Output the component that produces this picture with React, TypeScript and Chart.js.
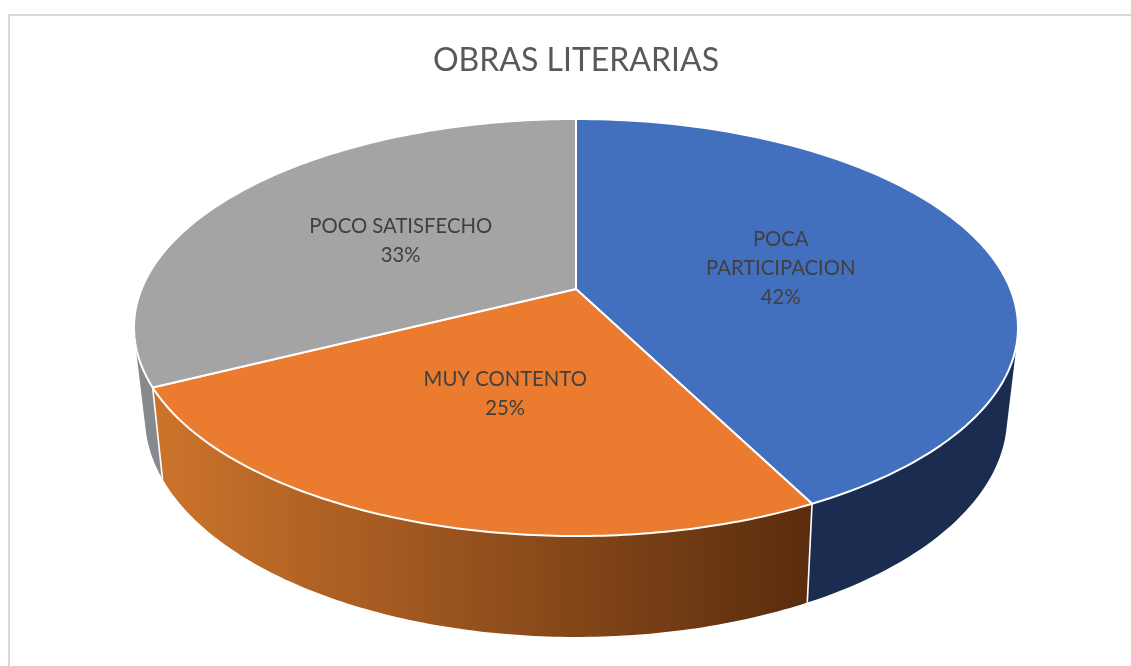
import React, { useEffect, useRef } from "react";
import { Chart, registerables } from "chart.js";

Chart.register(...registerables);

const chartTitle = "OBRAS LITERARIAS";
const categories = ["POCA PARTICIPACION", "MUY CONTENTO", "POCO SATISFECHO"];
const labelLines = [["POCA", "PARTICIPACION"], ["MUY CONTENTO"], ["POCO SATISFECHO"]];
const percentLabels = ["42%", "25%", "33%"];
const seriesValues = [42.5, 25.1, 32.4];
const faceColors = ["#4270BF", "#EA7B2F", "#A4A4A4"];

const FONT = "Lato, 'Open Sans', sans-serif";

// Perspective of the 3D disc: unit circle (u, v) -> screen.
const topFace = { x0: 576, y0: 289, a: 201.4, b: -0.1847, c: 434.4 };
const lowFace = { x0: 576, y0: 375.2, a: 212, b: -0.19, c: 423.2 };

type Face = typeof topFace;

function project(f: Face, angle: number, r = 1) {
  const u = Math.cos(angle) * r;
  const v = Math.sin(angle) * r;
  const d = 1 + f.b * v;
  return { x: f.x0 + (f.c * u) / d, y: f.y0 + (f.a * v) / d };
}

const pie3d = {
  id: "pie3d",
  beforeDraw(chart: any) {
    const { ctx, width, height } = chart;
    ctx.save();
    ctx.fillStyle = "#ffffff";
    ctx.fillRect(0, 0, width, height);
    ctx.strokeStyle = "#D9D9D9";
    ctx.lineWidth = 2;
    ctx.beginPath();
    ctx.moveTo(9, height);
    ctx.lineTo(9, 15);
    ctx.lineTo(width, 15);
    ctx.stroke();
    ctx.restore();
  },
  beforeDatasetsDraw(chart: any) {
    const ctx = chart.ctx;
    const arcs = chart.getDatasetMeta(0).data;
    const steps = 120;

    ctx.save();

    // Walls
    const orangeGrad = ctx.createLinearGradient(163, 0, 806, 0);
    orangeGrad.addColorStop(0, "#CB732B");
    orangeGrad.addColorStop(1, "#5B2D0E");
    const wallFills = ["#1A2C50", orangeGrad, "#868A8E"];
    arcs.forEach((arc: any, i: number) => {
      ctx.beginPath();
      for (let s = 0; s < steps; s++) {
        const a0 = arc.startAngle + ((arc.endAngle - arc.startAngle) * s) / steps;
        const a1 = arc.startAngle + ((arc.endAngle - arc.startAngle) * (s + 1)) / steps;
        let q = [project(topFace, a0), project(topFace, a1), project(lowFace, a1), project(lowFace, a0)];
        let area = 0;
        q.forEach((p, k) => {
          const n = q[(k + 1) % 4];
          area += p.x * n.y - n.x * p.y;
        });
        if (area < 0) q = q.reverse();
        q.forEach((p, k) => (k ? ctx.lineTo(p.x, p.y) : ctx.moveTo(p.x, p.y)));
        ctx.closePath();
      }
      ctx.fillStyle = wallFills[i];
      ctx.fill("nonzero");
    });

    // Seams between walls
    ctx.strokeStyle = "#ffffff";
    ctx.lineWidth = 1.6;
    [arcs[0].endAngle, arcs[1].endAngle].forEach((a: number) => {
      const p = project(topFace, a);
      const q = project(lowFace, a);
      ctx.beginPath();
      ctx.moveTo(p.x, p.y);
      ctx.lineTo(q.x, q.y);
      ctx.stroke();
    });

    // Top faces
    ctx.lineJoin = "round";
    ctx.lineWidth = 2;
    arcs.forEach((arc: any, i: number) => {
      ctx.beginPath();
      ctx.moveTo(topFace.x0, topFace.y0);
      for (let s = 0; s <= steps; s++) {
        const a = arc.startAngle + ((arc.endAngle - arc.startAngle) * s) / steps;
        const p = project(topFace, a);
        ctx.lineTo(p.x, p.y);
      }
      ctx.closePath();
      ctx.fillStyle = faceColors[i];
      ctx.fill();
      ctx.strokeStyle = "#ffffff";
      ctx.stroke();
    });

    // Data labels
    const nudgeX = [-2, 3.5, 1];
    const nudgeY = [2, 0, 2];
    ctx.fillStyle = "#404040";
    ctx.font = `20.3px ${FONT}`;
    ctx.textAlign = "center";
    ctx.textBaseline = "middle";
    arcs.forEach((arc: any, i: number) => {
      const c = project(topFace, (arc.startAngle + arc.endAngle) / 2, 0.5);
      const lines = [...labelLines[i], percentLabels[i]];
      const lh = 29;
      lines.forEach((t, k) => {
        ctx.fillText(t, c.x + nudgeX[i], c.y + nudgeY[i] + (k - (lines.length - 1) / 2) * lh);
      });
    });

    ctx.restore();
    return false;
  },
};

export default function App() {
  const ref = useRef<HTMLCanvasElement>(null);
  useEffect(() => {
    const chart = new Chart(ref.current!, {
      type: "pie",
      data: {
        labels: categories,
        datasets: [{ data: seriesValues, backgroundColor: faceColors, borderColor: "#ffffff", borderWidth: 2 }],
      },
      options: {
        animation: false,
        responsive: false,
        layout: { padding: { left: 21, top: 0, right: 0, bottom: 0 } },
        plugins: {
          legend: { display: false },
          tooltip: { enabled: false },
          title: {
            display: true,
            text: chartTitle,
            color: "#595959",
            fullSize: false,
            font: { family: FONT, size: 32, weight: "normal" },
            padding: { top: 41, bottom: 10 },
          },
        },
      },
      plugins: [pie3d],
    } as any);
    return () => chart.destroy();
  }, []);
  return (
    <div style={{ position: "fixed", left: 0, top: 0, width: 1131, height: 666, background: "#fff" }}>
      <canvas ref={ref} width={1131} height={666} style={{ display: "block", width: 1131, height: 666, filter: "blur(0.4px)" }} />
    </div>
  );
}
